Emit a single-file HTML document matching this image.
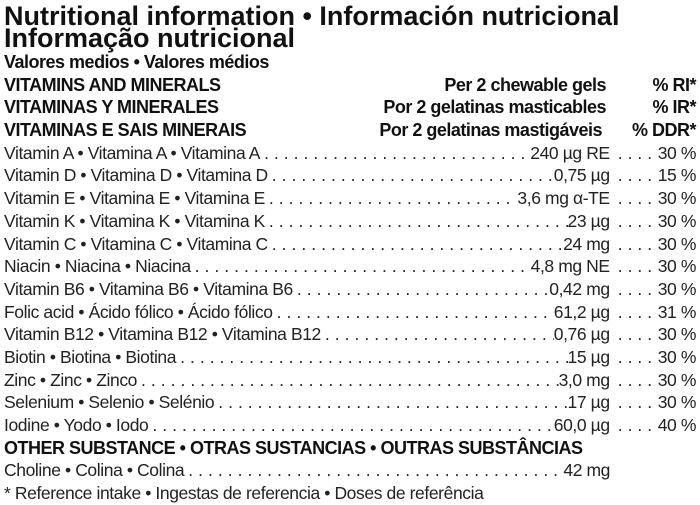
<!DOCTYPE html>
<html><head><meta charset="utf-8"><style>
html,body{margin:0;padding:0;background:#fff;}
body{width:700px;height:503px;overflow:hidden;position:relative;font-family:"Liberation Sans",sans-serif;color:#111;}
.t{position:absolute;left:4px;font-weight:bold;font-size:27px;line-height:22px;letter-spacing:0px;}
.rows{position:absolute;left:4px;top:51px;width:692px;}
.r{height:22.7px;line-height:22.7px;font-size:17.5px;display:flex;white-space:nowrap;letter-spacing:-0.4px;color:#222;}
.b{font-weight:bold;letter-spacing:-0.5px;font-size:18px;color:#111;}
.l{flex:0 0 auto;}
.d{flex:1 1 auto;overflow:hidden;letter-spacing:5px;padding:0 4px;}
.a{flex:0 0 auto;text-align:right;}
.d2{flex:0 0 auto;width:40px;overflow:hidden;letter-spacing:5px;padding-left:8px;}
.p{flex:0 0 38px;text-align:right;}
.h1{width:320px;flex:0 0 auto;}
.h2{flex:1;text-align:right;padding-right:30px;}
.h3{flex:0 0 60px;text-align:right;}
</style></head><body>
<div class="t" style="top:5px">Nutritional information • Información nutricional</div>
<div class="t" style="top:27px">Informação nutricional</div>
<div class="rows">
<div class="r b">Valores medios • Valores médios</div>
<div class="r b"><span class="h1">VITAMINS AND MINERALS</span><span class="h2">Per 2 chewable gels</span><span class="h3">% RI*</span></div>
<div class="r b"><span class="h1">VITAMINAS Y MINERALES</span><span class="h2">Por 2 gelatinas masticables</span><span class="h3">% IR*</span></div>
<div class="r b"><span class="h1">VITAMINAS E SAIS MINERAIS</span><span class="h2">Por 2 gelatinas mastigáveis</span><span class="h3">% DDR*</span></div>
<div class="r"><span class="l">Vitamin A • Vitamina A • Vitamina A</span><span class="d">.....................................................................</span><span class="a">240 µg RE</span><span class="d2">.........</span><span class="p">30 %</span></div>
<div class="r"><span class="l">Vitamin D • Vitamina D • Vitamina D</span><span class="d">.....................................................................</span><span class="a">0,75 µg</span><span class="d2">.........</span><span class="p">15 %</span></div>
<div class="r"><span class="l">Vitamin E • Vitamina E • Vitamina E</span><span class="d">.....................................................................</span><span class="a">3,6 mg α-TE</span><span class="d2">.........</span><span class="p">30 %</span></div>
<div class="r"><span class="l">Vitamin K • Vitamina K • Vitamina K</span><span class="d">.....................................................................</span><span class="a">23 µg</span><span class="d2">.........</span><span class="p">30 %</span></div>
<div class="r"><span class="l">Vitamin C • Vitamina C • Vitamina C</span><span class="d">.....................................................................</span><span class="a">24 mg</span><span class="d2">.........</span><span class="p">30 %</span></div>
<div class="r"><span class="l">Niacin • Niacina • Niacina</span><span class="d">.....................................................................</span><span class="a">4,8 mg NE</span><span class="d2">.........</span><span class="p">30 %</span></div>
<div class="r"><span class="l">Vitamin B6 • Vitamina B6 • Vitamina B6</span><span class="d">.....................................................................</span><span class="a">0,42 mg</span><span class="d2">.........</span><span class="p">30 %</span></div>
<div class="r"><span class="l">Folic acid • Ácido fólico • Ácido fólico</span><span class="d">.....................................................................</span><span class="a">61,2 µg</span><span class="d2">.........</span><span class="p">31 %</span></div>
<div class="r"><span class="l">Vitamin B12 • Vitamina B12 • Vitamina B12</span><span class="d">.....................................................................</span><span class="a">0,76 µg</span><span class="d2">.........</span><span class="p">30 %</span></div>
<div class="r"><span class="l">Biotin • Biotina • Biotina</span><span class="d">.....................................................................</span><span class="a">15 µg</span><span class="d2">.........</span><span class="p">30 %</span></div>
<div class="r"><span class="l">Zinc • Zinc • Zinco</span><span class="d">.....................................................................</span><span class="a">3,0 mg</span><span class="d2">.........</span><span class="p">30 %</span></div>
<div class="r"><span class="l">Selenium • Selenio • Selénio</span><span class="d">.....................................................................</span><span class="a">17 µg</span><span class="d2">.........</span><span class="p">30 %</span></div>
<div class="r"><span class="l">Iodine • Yodo • Iodo</span><span class="d">.....................................................................</span><span class="a">60,0 µg</span><span class="d2">.........</span><span class="p">40 %</span></div>
<div class="r b">OTHER SUBSTANCE • OTRAS SUSTANCIAS • OUTRAS SUBSTÂNCIAS</div>
<div class="r"><span class="l">Choline • Colina • Colina</span><span class="d">.....................................................................</span><span class="a">42 mg</span><span style="flex:0 0 86px"></span></div>
<div class="r">* Reference intake • Ingestas de referencia • Doses de referência</div>
</div>
</body></html>
